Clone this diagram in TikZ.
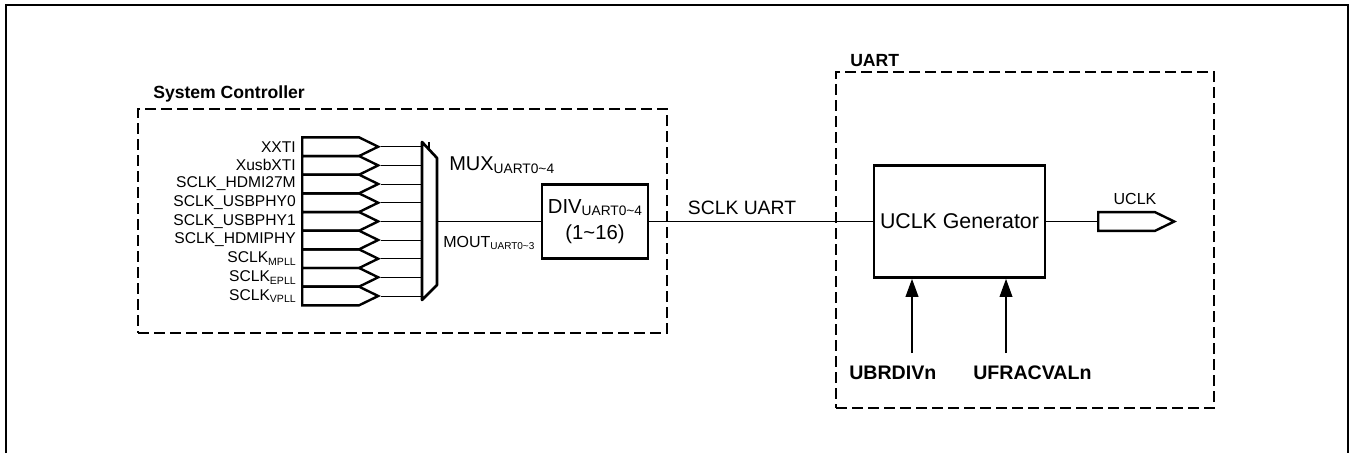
\documentclass[tikz,border=0pt]{standalone}
\usepackage{fontspec}
\setmainfont{Liberation Sans}
\usetikzlibrary{positioning,arrows.meta,shapes.symbols}
\newcommand{\lowsub}[2]{\raisebox{-2pt}{\fontsize{#1}{#1}\selectfont #2}}

\begin{document}
\begin{tikzpicture}[
  x=0.75pt, y=-0.75pt,
  every node/.style={inner sep=0pt},
  block/.style={draw, line width=2pt, font=\fontsize{15.2}{20}\selectfont, align=center},
  dashbox/.style={draw, line width=1pt, dash pattern=on 8.5pt off 3.5pt},
  pinbox/.style={draw, line width=1.8pt, shape=signal, signal to=east, signal from=nowhere, signal pointer angle=52, minimum width=57pt, minimum height=14pt, anchor=west},
  wire/.style={line width=0.75pt},
  lbl/.style={font=\fontsize{11.7}{13}\selectfont},
  bigl/.style={font=\fontsize{15}{18}\selectfont},
  head/.style={font=\fontsize{13.2}{15}\selectfont\bfseries},
  param/.style={font=\fontsize{14.7}{17}\selectfont\bfseries},
]
\useasboundingbox (0,0) rectangle (1355,453);

% ── outer frame ──
\coordinate (fl) at (6,453);
\coordinate (fr) at (1348,453);
\draw[line width=1.5pt] (fl) |- (5,5) -| (fr);

% ── System Controller ──
\node[dashbox, minimum width=396.75pt, minimum height=168pt] (sysbox) at (402.5,221) {};
\node[head, anchor=west] (syslbl) at (153,94) {System Controller};

\coordinate (muxl) at (422,221);
\foreach \i/\y/\txt in {
  1/146.7/XXTI,
  2/165.4/XusbXTI,
  3/184.0/SCLK\_HDMI27M,
  4/202.7/SCLK\_USBPHY0,
  5/221.4/SCLK\_USBPHY1,
  6/240.0/SCLK\_HDMIPHY,
  7/258.7/SCLK\lowsub{7.9}{MPLL},
  8/277.3/SCLK\lowsub{7.9}{EPLL},
  9/296.0/SCLK\lowsub{7.9}{VPLL}}{
  \node[pinbox] (pin\i) at (301,\y) {};
  \node[lbl, anchor=east] (pinlbl\i) at (296,\y) {\txt};
  \draw[wire] (pin\i.east) -- (pin\i.east -| muxl);
}
\draw[line width=2pt, line join=round] (422,142) -- (437,158) -- (437,285) -- (422,300) -- cycle;
\draw[line width=1pt] (429,142) -- (429,149);

\coordinate (muxout) at (437,221.5);
\node[bigl, anchor=west] (muxlbl) at (449,165) {MUX\lowsub{10.3}{UART0\textasciitilde 4}};
\node[font=\fontsize{12}{14}\selectfont, anchor=west] (moutlbl) at (443,243) {MOUT\lowsub{7.5}{UART0\textasciitilde 3}};

\node[block, minimum width=79.5pt, minimum height=55.5pt] (div) at (595,221.5)
  {DIV\lowsub{10.3}{UART0\textasciitilde 4}\\(1\textasciitilde 16)};
\draw[wire] (muxout) -- (div.west);

% ── UART ──
\node[dashbox, minimum width=283.5pt, minimum height=252pt] (uartbox) at (1025,240) {};
\node[head, anchor=west] (uartlbl) at (850,61) {UART};

\node[block, font=\fontsize{16}{20}\selectfont, minimum width=128.25pt, minimum height=84pt] (gen) at (959.5,221.5) {UCLK Generator};
\draw[wire] (div.east) -- (gen.west);
\node[font=\fontsize{14.5}{17}\selectfont, anchor=center] (sclklbl) at (742,208) {SCLK UART};

\node[pinbox] (uclk) at (1097,221.5) {};
\draw[wire] (gen.east) -- (uclk.west);
\node[font=\fontsize{12}{14}\selectfont] (uclklbl) at (1135,199) {UCLK};

\coordinate (ubrin) at (912,353);
\coordinate (ufrin) at (1006,353);
\draw[line width=1.3pt, -{Triangle[length=13.5pt,width=9.5pt]}] (ubrin) -- (ubrin |- gen.south);
\draw[line width=1.1pt, -{Triangle[length=13.5pt,width=9.5pt]}] (ufrin) -- (ufrin |- gen.south);
\node[param, anchor=west] (ubrlbl) at (849,373) {UBRDIVn};
\node[param, anchor=west] (ufrlbl) at (973,373) {UFRACVALn};

\end{tikzpicture}
\end{document}
